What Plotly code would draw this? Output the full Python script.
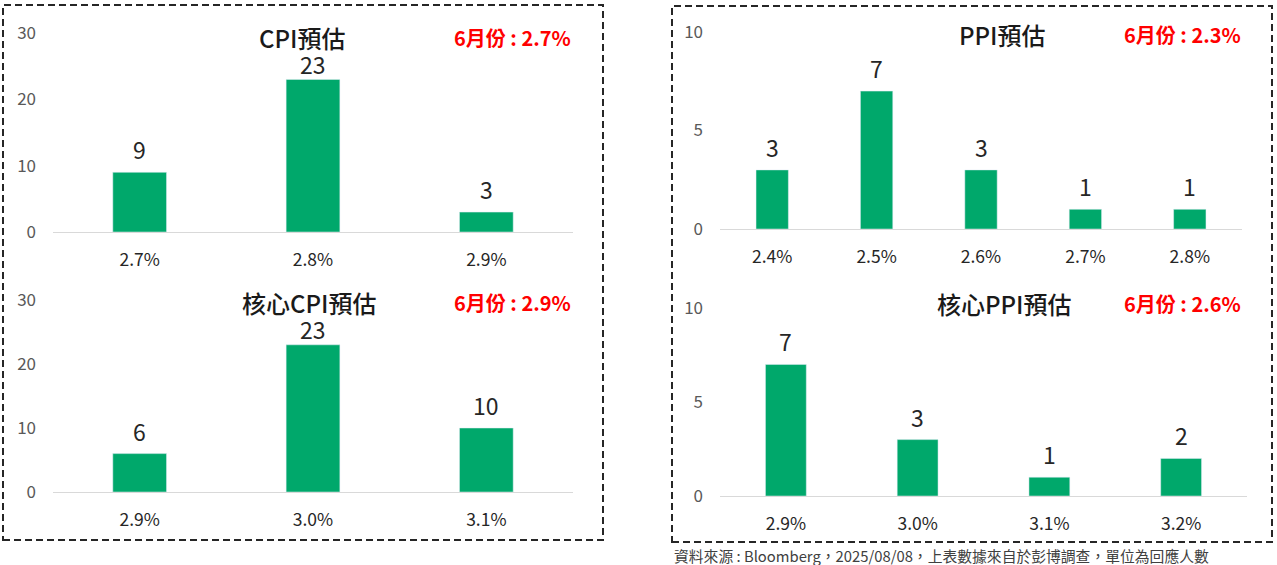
import plotly.graph_objects as go

# 調查結果（回應人數）
cpi_cats = ["2.7%", "2.8%", "2.9%"]
cpi_vals = [9, 23, 3]
core_cpi_cats = ["2.9%", "3.0%", "3.1%"]
core_cpi_vals = [6, 23, 10]
ppi_cats = ["2.4%", "2.5%", "2.6%", "2.7%", "2.8%"]
ppi_vals = [3, 7, 3, 1, 1]
core_ppi_cats = ["2.9%", "3.0%", "3.1%", "3.2%"]
core_ppi_vals = [7, 3, 1, 2]

titles = ["CPI預估", "核心CPI預估", "PPI預估", "核心PPI預估"]
actuals = ["6月份 : 2.7%", "6月份 : 2.9%", "6月份 : 2.3%", "6月份 : 2.6%"]
footnote = "資料來源 : Bloomberg，2025/08/08，上表數據來自於彭博調查，單位為回應人數"

W, H = 1277, 565
FONT = "Noto Sans CJK TC"
GREEN = "#00A86B"


def px_x(v):
    return v / W


def px_y(v):
    return 1 - v / H


# 每個小圖: 資料, y軸上限, 刻度間距, x區間(px), y區間(px: 0的位置, 上限位置), 標題中心x, 標題y
panels = [
    (cpi_cats, cpi_vals, 30, 10, (53, 573), (232, 33), 302, 37),
    (core_cpi_cats, core_cpi_vals, 30, 10, (53, 573), (492, 300), 309, 302),
    (ppi_cats, ppi_vals, 10, 5, (720, 1242), (229, 32), 1002, 35),
    (core_ppi_cats, core_ppi_vals, 10, 5, (720, 1247), (496, 308), 1005, 303),
]

fig = go.Figure()
annotations = []

for i, (cats, vals, ymax, dtick, xd, yd, tx, ty) in enumerate(panels):
    n = i + 1
    xa = "x" if n == 1 else f"x{n}"
    ya = "y" if n == 1 else f"y{n}"
    fig.add_trace(go.Bar(
        x=cats, y=vals, xaxis=xa, yaxis=ya,
        marker_color=GREEN, width=0.31,
        hoverinfo="x+y", showlegend=False,
    ))
    # 數值標籤：放在柱頂上方，太靠近標題時往下收
    scale = (yd[0] - yd[1]) / ymax
    for c, v in zip(cats, vals):
        top = yd[0] - v * scale
        shift = min(23, top - (ty + 27))
        annotations.append(dict(
            x=c, y=v, xref=xa, yref=ya, text=str(v), showarrow=False,
            xanchor="center", yanchor="middle", yshift=shift,
            font=dict(family=FONT, size=23, color="#262626"),
        ))
    xkey = "xaxis" if n == 1 else f"xaxis{n}"
    ykey = "yaxis" if n == 1 else f"yaxis{n}"
    fig.layout[xkey] = dict(
        domain=[px_x(xd[0]), px_x(xd[1])], anchor=ya, type="category",
        range=[-0.5, len(cats) - 0.5], showline=True, linecolor="#D9D9D9",
        linewidth=1, showgrid=False, ticks="", ticklabelstandoff=12,
        tickfont=dict(family=FONT, size=17.5, color="#262626"), fixedrange=True,
    )
    fig.layout[ykey] = dict(
        domain=[px_y(yd[0]), px_y(yd[1])], anchor=xa, range=[0, ymax],
        dtick=dtick, showgrid=False, zeroline=False, showline=False,
        ticks="", ticklabelstandoff=16,
        tickfont=dict(family=FONT, size=17, color="#595959"), fixedrange=True,
    )
    annotations.append(dict(
        x=px_x(tx), y=px_y(ty), xref="paper", yref="paper", text=titles[i],
        showarrow=False, xanchor="center", yanchor="middle",
        font=dict(family=FONT, size=24, color="#1a1a1a", weight=500),
    ))
    right = 573 if i < 2 else 1243
    annotations.append(dict(
        x=px_x(right), y=px_y(ty), xref="paper", yref="paper", text=actuals[i],
        showarrow=False, xanchor="right", yanchor="middle",
        font=dict(family=FONT, size=20, color="#FF0000", weight=600),
    ))

annotations.append(dict(
    x=px_x(672), y=px_y(555), xref="paper", yref="paper", text=footnote,
    showarrow=False, xanchor="left", yanchor="middle",
    font=dict(family=FONT, size=14.8, color="#404040"),
))

border = dict(color="#262626", width=2, dash="7px,4px")
shapes = [
    dict(type="rect", xref="paper", yref="paper", x0=px_x(3), x1=px_x(603),
         y0=px_y(540), y1=px_y(5), line=border),
    dict(type="rect", xref="paper", yref="paper", x0=px_x(672), x1=px_x(1272),
         y0=px_y(542), y1=px_y(6), line=border),
]

fig.update_layout(
    width=W, height=H, margin=dict(l=0, r=0, t=0, b=0, autoexpand=False),
    paper_bgcolor="white", plot_bgcolor="white",
    annotations=annotations, shapes=shapes,
    font=dict(family=FONT), bargap=0.69,
)

fig.write_html(
    "out.html",
    config={"displayModeBar": False},
    post_script="document.body.style.margin='0px';document.body.style.overflow='hidden';",
)
